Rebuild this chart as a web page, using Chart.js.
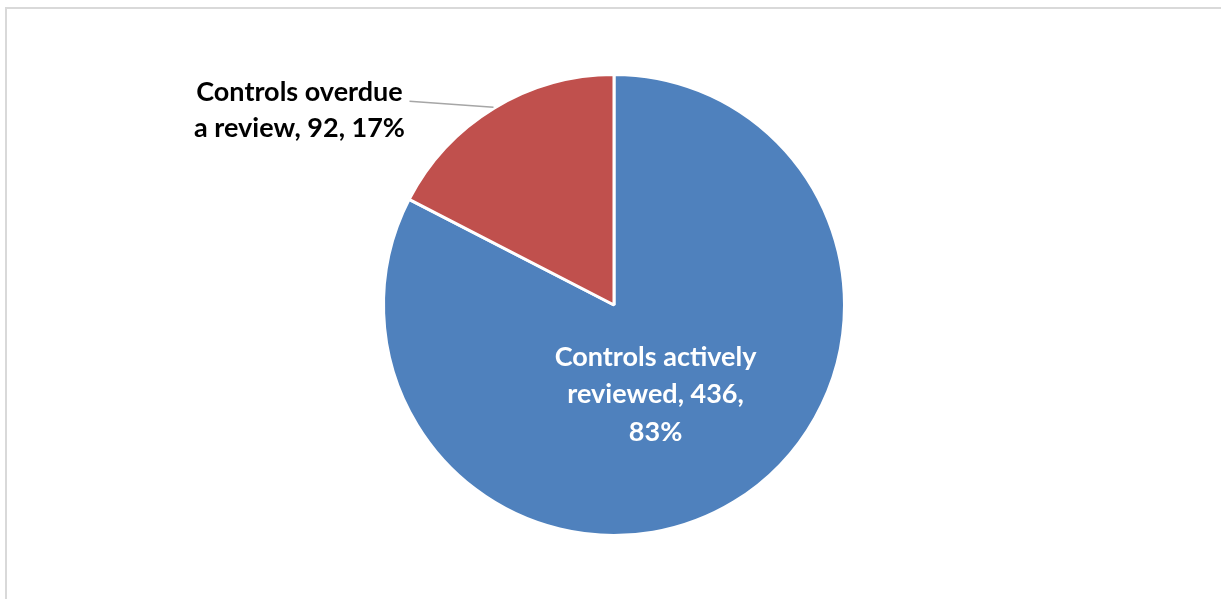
<!DOCTYPE html>
<html lang="en">
<head>
    <meta charset="UTF-8">
    <title>Controls review status</title>
    <script src="https://cdn.jsdelivr.net/npm/chart.js"></script>
    <style>
        body {
            margin: 0;
            background: #fff;
            overflow: hidden;
        }
        #frame {
            position: absolute;
            left: 5px;
            top: 7px;
            width: 1300px;
            height: 700px;
            border: 2px solid #d9d9d9;
        }
        canvas {
            position: absolute;
            left: 0;
            top: 0;
        }
    </style>
</head>
<body>
    <div id="frame"></div>
    <canvas id="pieChart" width="1221" height="599"></canvas>

    <script>
        const categories = ['Controls actively reviewed', 'Controls overdue a review'];
        const labelLines = [
            ['Controls actively', 'reviewed, 436,', '83%'],
            ['Controls overdue', 'a review, 92, 17%']
        ];
        const values = [436, 92];
        const colors = ['#4f81bd', '#c0504d'];

        const labelFont = 'bold 27px Lato';

        const sliceLabels = {
            id: 'sliceLabels',
            afterDatasetsDraw(chart) {
                const ctx = chart.ctx;
                const arcs = chart.getDatasetMeta(0).data;
                ctx.save();
                ctx.font = labelFont;
                ctx.textBaseline = 'middle';
                ctx.textAlign = 'center';

                // big slice: label inside, white
                const a0 = arcs[0].getProps(['x', 'y', 'startAngle', 'endAngle', 'outerRadius']);
                const mid0 = (a0.startAngle + a0.endAngle) / 2;
                const cx0 = a0.x + Math.cos(mid0) * a0.outerRadius * 0.43 - 10;
                const cy0 = a0.y + Math.sin(mid0) * a0.outerRadius * 0.43 + 5;
                ctx.fillStyle = '#ffffff';
                labelLines[0].forEach((line, i) => {
                    ctx.fillText(line, cx0, cy0 + (i - 1) * 37.5);
                });

                // small slice: label outside with leader line
                const a1 = arcs[1].getProps(['x', 'y', 'startAngle', 'endAngle', 'outerRadius']);
                const mid1 = (a1.startAngle + a1.endAngle) / 2;
                const ex = a1.x + Math.cos(mid1) * (a1.outerRadius + 1);
                const ey = a1.y + Math.sin(mid1) * (a1.outerRadius + 1);
                const sx = ex - 84;
                const sy = ey - 6;
                ctx.strokeStyle = '#a6a6a6';
                ctx.lineWidth = 1.5;
                ctx.beginPath();
                ctx.moveTo(ex, ey);
                ctx.lineTo(sx, sy);
                ctx.stroke();
                ctx.fillStyle = '#000000';
                const tx = sx - 110;
                labelLines[1].forEach((line, i) => {
                    ctx.fillText(line, tx, sy - 9 + i * 36);
                });
                ctx.restore();
            }
        };

        new Chart(document.getElementById('pieChart').getContext('2d'), {
            type: 'pie',
            data: {
                labels: categories,
                datasets: [{
                    data: values,
                    backgroundColor: colors,
                    borderColor: '#ffffff',
                    borderWidth: 3
                }]
            },
            options: {
                responsive: false,
                animation: false,
                layout: {
                    padding: { top: 73, bottom: 62, left: 382, right: 375 }
                },
                plugins: {
                    legend: { display: false },
                    tooltip: { enabled: false }
                }
            },
            plugins: [sliceLabels]
        });
    </script>
</body>
</html>
